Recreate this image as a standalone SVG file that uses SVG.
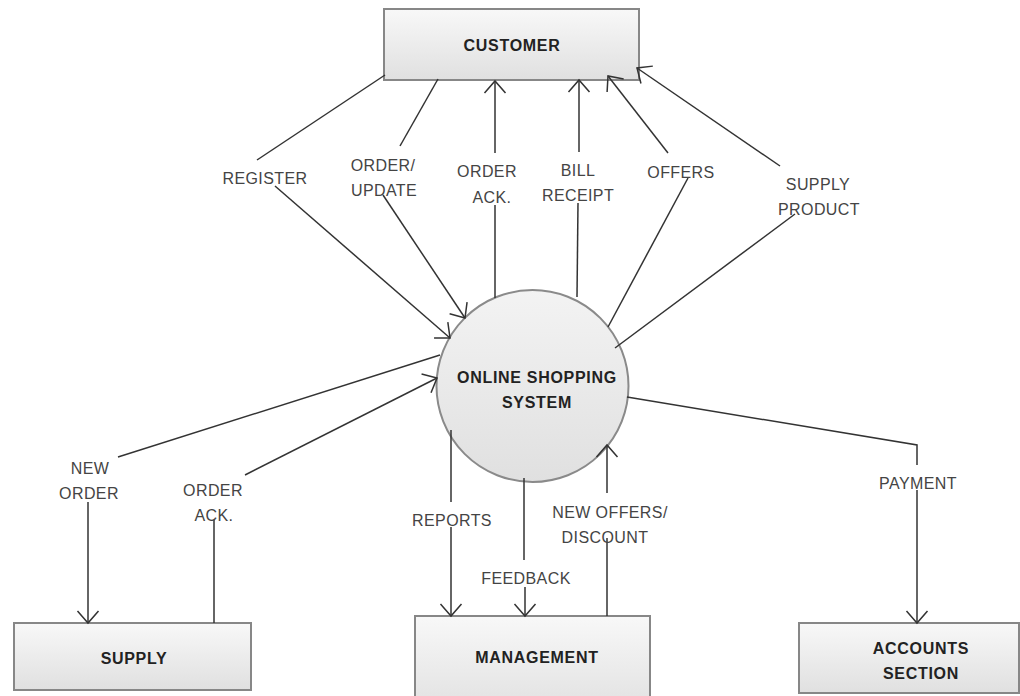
<svg xmlns="http://www.w3.org/2000/svg" width="1020" height="696" viewBox="0 0 1020 696">
  <style>
    .box { stroke: #878787; stroke-width: 2; fill: url(#boxFill); }
    .proc { stroke: #8a8a8a; stroke-width: 2; fill: url(#procFill); }
    .node-label { font-family: "Liberation Sans", Arial, sans-serif; font-size: 16px; font-weight: bold; fill: #222; letter-spacing: 0.7px; text-anchor: middle; }
    .flow { stroke: #333; stroke-width: 1.5; fill: none; }
    .flow-label { font-family: "Liberation Sans", Arial, sans-serif; font-size: 16px; fill: #444; letter-spacing: 0.4px; text-anchor: middle; }
  </style>
  <defs>
    <linearGradient id="boxFill" x1="0" y1="0" x2="0" y2="1">
      <stop offset="0" stop-color="#f8f8f8"/>
      <stop offset="1" stop-color="#e0e0e0"/>
    </linearGradient>
    <linearGradient id="procFill" x1="0" y1="0" x2="0" y2="1">
      <stop offset="0" stop-color="#f3f3f3"/>
      <stop offset="1" stop-color="#e0e0e0"/>
    </linearGradient>
    <marker id="arrow" markerUnits="userSpaceOnUse" viewBox="-14 -12 16 24" refX="0" refY="0" markerWidth="16" markerHeight="24" orient="auto">
      <path d="M-12,-10.5 L0,0 L-12,10.5" fill="none" stroke="#333" stroke-width="1.5"/>
    </marker>
  </defs>

  <!-- external entities and the central process -->
  <g id="customer">
    <rect class="box" x="384" y="9" width="255" height="71"/>
    <text class="node-label" x="512" y="51">CUSTOMER</text>
  </g>
  <g id="online-shopping-system">
    <circle class="proc" cx="532.5" cy="386" r="96"/>
    <text class="node-label" x="537" y="383">ONLINE SHOPPING</text>
    <text class="node-label" x="537" y="408">SYSTEM</text>
  </g>
  <g id="supply">
    <rect class="box" x="14" y="623" width="237" height="67"/>
    <text class="node-label" x="134" y="664">SUPPLY</text>
  </g>
  <g id="management">
    <rect class="box" x="415" y="616" width="235" height="100"/>
    <text class="node-label" x="537" y="663">MANAGEMENT</text>
  </g>
  <g id="accounts-section">
    <rect class="box" x="799" y="623" width="220" height="70"/>
    <text class="node-label" x="921" y="654">ACCOUNTS</text>
    <text class="node-label" x="921" y="679">SECTION</text>
  </g>

  <!-- data flows -->
  <g id="connectors">
    <!-- REGISTER -->
    <line class="flow" x1="385" y1="75" x2="257" y2="160"/>
    <line class="flow" x1="275" y1="186" x2="450" y2="338" marker-end="url(#arrow)"/>
    <!-- ORDER/UPDATE -->
    <line class="flow" x1="438" y1="79" x2="400" y2="146"/>
    <line class="flow" x1="383" y1="195" x2="465" y2="318" marker-end="url(#arrow)"/>
    <!-- ORDER ACK. to customer -->
    <line class="flow" x1="495" y1="298" x2="495" y2="205"/>
    <line class="flow" x1="495" y1="153" x2="495" y2="81" marker-end="url(#arrow)"/>
    <!-- BILL RECEIPT -->
    <line class="flow" x1="577" y1="297" x2="578" y2="203"/>
    <line class="flow" x1="579" y1="152" x2="579" y2="80" marker-end="url(#arrow)"/>
    <!-- OFFERS -->
    <line class="flow" x1="608" y1="327" x2="688" y2="178"/>
    <line class="flow" x1="668" y1="153" x2="608" y2="76" marker-end="url(#arrow)"/>
    <!-- SUPPLY PRODUCT -->
    <line class="flow" x1="615" y1="348" x2="795" y2="214"/>
    <line class="flow" x1="780" y1="166" x2="637" y2="68" marker-end="url(#arrow)"/>
    <!-- NEW ORDER -->
    <line class="flow" x1="440" y1="355" x2="118" y2="457"/>
    <line class="flow" x1="88" y1="502" x2="88" y2="623" marker-end="url(#arrow)"/>
    <!-- ORDER ACK. from supply -->
    <line class="flow" x1="214" y1="623" x2="214" y2="520"/>
    <line class="flow" x1="245" y1="475" x2="437" y2="378" marker-end="url(#arrow)"/>
    <!-- REPORTS -->
    <line class="flow" x1="451" y1="430" x2="451" y2="502"/>
    <line class="flow" x1="451" y1="527" x2="451" y2="616" marker-end="url(#arrow)"/>
    <!-- FEEDBACK -->
    <line class="flow" x1="524" y1="478" x2="524" y2="560"/>
    <line class="flow" x1="525" y1="587" x2="525" y2="616" marker-end="url(#arrow)"/>
    <!-- NEW OFFERS/DISCOUNT -->
    <line class="flow" x1="607" y1="616" x2="607" y2="538"/>
    <line class="flow" x1="607" y1="493" x2="607" y2="445" marker-end="url(#arrow)"/>
    <!-- PAYMENT -->
    <polyline class="flow" points="627,397 917,445 917,465"/>
    <line class="flow" x1="917" y1="490" x2="917" y2="623" marker-end="url(#arrow)"/>
  </g>

  <!-- flow labels -->
  <g id="flow-labels">
    <text class="flow-label" x="265" y="184">REGISTER</text>
    <text class="flow-label" x="383" y="171">ORDER/</text>
    <text class="flow-label" x="384" y="196">UPDATE</text>
    <text class="flow-label" x="487" y="177">ORDER</text>
    <text class="flow-label" x="492" y="203">ACK.</text>
    <text class="flow-label" x="578" y="176">BILL</text>
    <text class="flow-label" x="578" y="201">RECEIPT</text>
    <text class="flow-label" x="681" y="178">OFFERS</text>
    <text class="flow-label" x="818" y="190">SUPPLY</text>
    <text class="flow-label" x="819" y="215">PRODUCT</text>
    <text class="flow-label" x="90" y="474">NEW</text>
    <text class="flow-label" x="89" y="499">ORDER</text>
    <text class="flow-label" x="213" y="496">ORDER</text>
    <text class="flow-label" x="214" y="521">ACK.</text>
    <text class="flow-label" x="452" y="526">REPORTS</text>
    <text class="flow-label" x="526" y="584">FEEDBACK</text>
    <text class="flow-label" x="610" y="518">NEW OFFERS/</text>
    <text class="flow-label" x="605" y="543">DISCOUNT</text>
    <text class="flow-label" x="918" y="489">PAYMENT</text>
  </g>
</svg>
